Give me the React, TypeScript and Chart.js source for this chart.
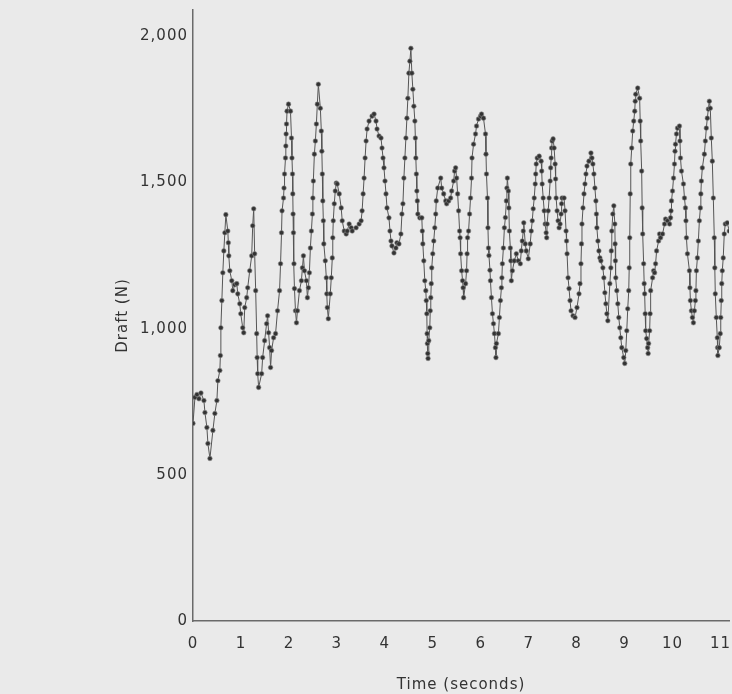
import React, { useEffect, useRef } from "react";
import { Chart, registerables } from "chart.js";

Chart.register(...registerables);

// Time (s) of each sample
const times: number[] = [
  0.000, 0.041, 0.083, 0.124, 0.166, 0.228, 0.249, 0.290, 0.311, 0.353,
  0.415, 0.456, 0.498, 0.519, 0.560, 0.571, 0.581, 0.602, 0.622, 0.643,
  0.664, 0.685, 0.726, 0.737, 0.747, 0.768, 0.809, 0.830, 0.871, 0.913,
  0.934, 0.975, 0.996, 1.037, 1.058, 1.079, 1.120, 1.141, 1.183, 1.224,
  1.245, 1.266, 1.286, 1.307, 1.328, 1.338, 1.349, 1.369, 1.432, 1.452,
  1.494, 1.535, 1.556, 1.577, 1.598, 1.618, 1.639, 1.681, 1.722, 1.763,
  1.805, 1.826, 1.846, 1.857, 1.888, 1.898, 1.909, 1.929, 1.936, 1.942,
  1.950, 1.961, 1.992, 2.033, 2.054, 2.064, 2.075, 2.081, 2.087, 2.095,
  2.106, 2.116, 2.137, 2.158, 2.178, 2.220, 2.261, 2.282, 2.303, 2.324,
  2.365, 2.386, 2.407, 2.427, 2.448, 2.469, 2.490, 2.500, 2.510, 2.531,
  2.552, 2.573, 2.593, 2.614, 2.656, 2.676, 2.687, 2.697, 2.707, 2.718,
  2.728, 2.759, 2.780, 2.790, 2.801, 2.822, 2.863, 2.884, 2.905, 2.915,
  2.925, 2.946, 2.967, 2.988, 3.008, 3.050, 3.091, 3.112, 3.154, 3.195,
  3.216, 3.257, 3.299, 3.320, 3.402, 3.465, 3.506, 3.527, 3.548, 3.568,
  3.589, 3.610, 3.631, 3.672, 3.734, 3.776, 3.817, 3.838, 3.880, 3.921,
  3.942, 3.963, 3.983, 4.004, 4.025, 4.046, 4.087, 4.108, 4.129, 4.149,
  4.191, 4.232, 4.253, 4.295, 4.336, 4.357, 4.378, 4.398, 4.419, 4.440,
  4.461, 4.481, 4.502, 4.523, 4.544, 4.564, 4.585, 4.606, 4.627, 4.637,
  4.647, 4.658, 4.668, 4.678, 4.689, 4.730, 4.772, 4.782, 4.793, 4.813,
  4.834, 4.855, 4.865, 4.876, 4.882, 4.888, 4.896, 4.902, 4.917, 4.938,
  4.948, 4.959, 4.969, 4.979, 5.000, 5.021, 5.042, 5.062, 5.073, 5.104,
  5.166, 5.187, 5.228, 5.270, 5.290, 5.332, 5.373, 5.394, 5.436, 5.456,
  5.477, 5.498, 5.519, 5.539, 5.560, 5.571, 5.581, 5.602, 5.622, 5.633,
  5.643, 5.685, 5.705, 5.716, 5.726, 5.747, 5.768, 5.788, 5.809, 5.819,
  5.851, 5.892, 5.913, 5.954, 5.996, 6.017, 6.058, 6.100, 6.110, 6.120,
  6.141, 6.151, 6.162, 6.172, 6.193, 6.203, 6.224, 6.245, 6.266, 6.286,
  6.307, 6.318, 6.328, 6.369, 6.390, 6.411, 6.432, 6.442, 6.452, 6.473,
  6.494, 6.515, 6.535, 6.546, 6.556, 6.577, 6.587, 6.598, 6.618, 6.629,
  6.639, 6.660, 6.701, 6.743, 6.784, 6.826, 6.846, 6.867, 6.888, 6.898,
  6.929, 6.950, 6.992, 7.033, 7.054, 7.075, 7.095, 7.116, 7.137, 7.147,
  7.158, 7.178, 7.220, 7.261, 7.272, 7.282, 7.303, 7.324, 7.344, 7.365,
  7.376, 7.386, 7.407, 7.427, 7.448, 7.459, 7.469, 7.479, 7.490, 7.510,
  7.531, 7.552, 7.562, 7.573, 7.593, 7.614, 7.635, 7.656, 7.676, 7.687,
  7.697, 7.739, 7.759, 7.780, 7.790, 7.801, 7.822, 7.842, 7.863, 7.884,
  7.925, 7.967, 8.008, 8.050, 8.071, 8.091, 8.102, 8.112, 8.133, 8.154,
  8.174, 8.195, 8.216, 8.257, 8.299, 8.320, 8.340, 8.361, 8.382, 8.402,
  8.413, 8.423, 8.444, 8.465, 8.486, 8.506, 8.548, 8.568, 8.589, 8.610,
  8.631, 8.651, 8.693, 8.714, 8.724, 8.734, 8.755, 8.776, 8.797, 8.803,
  8.809, 8.817, 8.838, 8.859, 8.880, 8.900, 8.921, 8.942, 8.983, 9.004,
  9.025, 9.046, 9.066, 9.087, 9.097, 9.108, 9.118, 9.129, 9.149, 9.170,
  9.191, 9.212, 9.222, 9.232, 9.274, 9.315, 9.326, 9.336, 9.357, 9.367,
  9.378, 9.398, 9.409, 9.419, 9.430, 9.440, 9.461, 9.481, 9.492, 9.502,
  9.523, 9.533, 9.544, 9.585, 9.606, 9.627, 9.647, 9.668, 9.710, 9.730,
  9.751, 9.793, 9.834, 9.855, 9.896, 9.938, 9.959, 9.969, 9.979, 10.000,
  10.021, 10.041, 10.052, 10.062, 10.083, 10.104, 10.145, 10.156, 10.166, 10.187,
  10.228, 10.249, 10.270, 10.280, 10.290, 10.311, 10.353, 10.363, 10.373, 10.394,
  10.415, 10.436, 10.456, 10.477, 10.488, 10.498, 10.519, 10.539, 10.560, 10.581,
  10.591, 10.602, 10.622, 10.664, 10.685, 10.705, 10.726, 10.747, 10.768, 10.788,
  10.809, 10.830, 10.851, 10.871, 10.882, 10.892, 10.913, 10.934, 10.940, 10.946,
  10.975, 10.996, 11.006, 11.017, 11.027, 11.038, 11.058, 11.079, 11.100, 11.141,
  11.183, 11.224,
];

// Draft (N) of each sample
const draft: number[] = [
  676, 765, 775, 760, 780, 754, 713, 662, 607, 556,
  652, 710, 754, 822, 857, 908, 1003, 1096, 1191, 1266,
  1328, 1390, 1334, 1294, 1249, 1198, 1164, 1130, 1150, 1154,
  1119, 1085, 1051, 1003, 986, 1072, 1106, 1140, 1198, 1249,
  1352, 1410, 1256, 1130, 983, 901, 846, 799, 846, 901,
  959, 1017, 1044, 986, 935, 867, 925, 969, 983, 1061,
  1130, 1222, 1328, 1403, 1447, 1481, 1529, 1584, 1625, 1666,
  1700, 1744, 1768, 1744, 1652, 1584, 1529, 1461, 1392, 1328,
  1222, 1137, 1061, 1020, 1061, 1130, 1164, 1208, 1249, 1198,
  1164, 1106, 1140, 1191, 1276, 1334, 1392, 1447, 1505, 1597,
  1642, 1700, 1768, 1836, 1754, 1676, 1607, 1529, 1437, 1369,
  1290, 1232, 1174, 1119, 1072, 1034, 1119, 1174, 1242, 1311,
  1369, 1427, 1471, 1498, 1495, 1461, 1413, 1369, 1334, 1324,
  1334, 1358, 1345, 1334, 1345, 1358, 1369, 1403, 1461, 1515,
  1584, 1642, 1683, 1710, 1727, 1734, 1710, 1683, 1659, 1652,
  1618, 1584, 1550, 1505, 1461, 1413, 1379, 1334, 1300, 1283,
  1259, 1276, 1294, 1290, 1324, 1392, 1427, 1515, 1584, 1652,
  1720, 1788, 1874, 1915, 1959, 1874, 1819, 1761, 1710, 1652,
  1584, 1529, 1471, 1437, 1392, 1379, 1379, 1334, 1290, 1232,
  1164, 1130, 1096, 1051, 983, 949, 915, 898, 959, 1003,
  1061, 1106, 1154, 1208, 1256, 1300, 1345, 1392, 1437, 1481,
  1515, 1481, 1461, 1437, 1427, 1437, 1447, 1471, 1505, 1539,
  1550, 1515, 1461, 1403, 1334, 1311, 1256, 1198, 1164, 1140,
  1106, 1154, 1198, 1256, 1311, 1334, 1392, 1447, 1515, 1584,
  1631, 1666, 1693, 1717, 1727, 1734, 1720, 1666, 1597, 1529,
  1447, 1345, 1276, 1250, 1200, 1164, 1106, 1051, 1017, 983,
  935, 901, 949, 983, 1038, 1096, 1140, 1174, 1222, 1276,
  1345, 1380, 1437, 1481, 1515, 1471, 1413, 1334, 1276, 1232,
  1164, 1198, 1232, 1256, 1232, 1222, 1266, 1300, 1334, 1362,
  1290, 1266, 1239, 1290, 1334, 1369, 1410, 1447, 1495, 1529,
  1563, 1584, 1590, 1573, 1539, 1495, 1447, 1403, 1358, 1328,
  1311, 1358, 1403, 1447, 1505, 1550, 1584, 1618, 1642, 1649,
  1618, 1563, 1512, 1447, 1403, 1369, 1345, 1358, 1392, 1427,
  1447, 1447, 1403, 1334, 1300, 1256, 1174, 1137, 1096, 1061,
  1044, 1038, 1072, 1119, 1154, 1222, 1290, 1358, 1413, 1461,
  1495, 1529, 1556, 1573, 1601, 1584, 1563, 1529, 1481, 1437,
  1392, 1345, 1300, 1266, 1242, 1232, 1208, 1174, 1123, 1085,
  1051, 1027, 1154, 1208, 1266, 1334, 1392, 1420, 1358, 1290,
  1232, 1174, 1130, 1085, 1038, 1003, 969, 935, 901, 881,
  925, 993, 1068, 1130, 1208, 1311, 1461, 1563, 1618, 1676,
  1710, 1744, 1778, 1802, 1823, 1788, 1710, 1642, 1539, 1413,
  1324, 1222, 1154, 1119, 1051, 993, 966, 935, 915, 949,
  993, 1051, 1130, 1174, 1198, 1191, 1222, 1266, 1300, 1324,
  1311, 1324, 1358, 1375, 1369, 1358, 1379, 1403, 1437, 1471,
  1515, 1563, 1607, 1631, 1666, 1686, 1693, 1642, 1584, 1539,
  1495, 1447, 1413, 1369, 1311, 1256, 1198, 1140, 1096, 1061,
  1038, 1020, 1061, 1096, 1130, 1198, 1242, 1300, 1369, 1413,
  1461, 1505, 1550, 1597, 1642, 1686, 1720, 1751, 1778, 1754,
  1652, 1573, 1447, 1311, 1208, 1119, 1038, 969, 935, 908,
  935, 983, 1038, 1096, 1154, 1198, 1242, 1324, 1358, 1362,
  1334, 1300,
];

const yTicks: number[] = [0, 500, 1000, 1500, 2000];
const xTicks: number[] = [0, 1, 2, 3, 4, 5, 6, 7, 8, 9, 10, 11];

const FONT = "'DejaVu Sans', 'Liberation Sans', sans-serif";
const TEXT = "#333333";

const letterSpacingPlugin = {
  id: "letterSpacing",
  beforeUpdate(chart: any) {
    (chart.ctx as any).letterSpacing = "1px";
  },
  beforeDraw(chart: any) {
    (chart.ctx as any).letterSpacing = "1px";
  },
};

export default function App() {
  const ref = useRef<HTMLCanvasElement | null>(null);

  useEffect(() => {
    if (!ref.current) return;
    const points = times.map((t, i) => ({ x: t, y: draft[i] }));
    const chart = new Chart(ref.current, {
      type: "line",
      data: {
        datasets: [
          {
            data: points,
            borderColor: "#555555",
            borderWidth: 1,
            pointRadius: 2.3,
            pointHoverRadius: 0,
            pointBackgroundColor: "#333333",
            pointBorderColor: "#888888",
            pointBorderWidth: 0.6,
            tension: 0,
            fill: false,
          },
        ],
      },
      options: {
        animation: false,
        responsive: false,
        events: [],
        layout: { padding: { left: 110, top: 10, right: 0, bottom: 0 } },
        plugins: {
          legend: { display: false },
          tooltip: { enabled: false },
        },
        scales: {
          x: {
            type: "linear",
            min: 0,
            max: 11.18,
            grid: { display: false, drawTicks: false },
            border: { display: true, color: "#6a6a6a", width: 1.5 },
            afterFit: (s: any) => {
              s.height = 73;
              s.paddingLeft = 0;
              s.paddingRight = 0;
            },
            afterBuildTicks: (s: any) => {
              s.ticks = xTicks.map((v) => ({ value: v }));
            },
            ticks: {
              stepSize: 1,
              includeBounds: false,
              autoSkip: false,
              maxRotation: 0,
              padding: 14,
              color: TEXT,
              font: { family: FONT, size: 15 },
            },
            title: {
              display: true,
              text: "Time (seconds)",
              color: TEXT,
              font: { family: FONT, size: 15 },
              padding: { top: 0, bottom: 0 },
            },
          },
          y: {
            type: "linear",
            min: 0,
            max: 2090,
            grid: { display: false, drawTicks: false },
            border: { display: true, color: "#6a6a6a", width: 1.5 },
            afterFit: (s: any) => {
              s.width = 83;
              s.paddingTop = 0;
              s.paddingBottom = 0;
            },
            afterBuildTicks: (s: any) => {
              s.ticks = yTicks.map((v) => ({ value: v }));
            },
            ticks: {
              stepSize: 500,
              includeBounds: false,
              padding: 5,
              color: TEXT,
              font: { family: FONT, size: 15 },
              callback: (v: any) => Number(v).toLocaleString("en-US"),
            },
            title: {
              display: true,
              text: "Draft (N)",
              color: TEXT,
              font: { family: FONT, size: 15 },
              padding: { top: 4, bottom: 4 },
            },
          },
        },
      },
      plugins: [letterSpacingPlugin],
    });
    return () => chart.destroy();
  }, []);

  return (
    <div
      style={{
        position: "fixed",
        left: 0,
        top: 0,
        width: 732,
        height: 694,
        background: "#eaeaea",
        overflow: "hidden",
      }}
    >
      <canvas ref={ref} width={732} height={694} style={{ display: "block" }} />
    </div>
  );
}
